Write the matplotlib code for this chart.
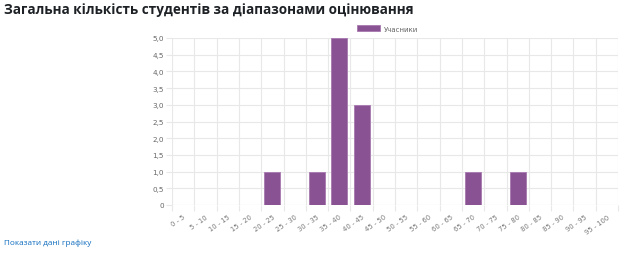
import matplotlib
matplotlib.use("Agg")
import matplotlib.pyplot as plt
import numpy as np

categories = ["0 - 5", "5 - 10", "10 - 15", "15 - 20", "20 - 25", "25 - 30", "30 - 35",
              "35 - 40", "40 - 45", "45 - 50", "50 - 55", "55 - 60", "60 - 65", "65 - 70",
              "70 - 75", "75 - 80", "80 - 85", "85 - 90", "90 - 95", "95 - 100"]
values = [0, 0, 0, 0, 1, 0, 1, 5, 3, 0, 0, 0, 0, 1, 0, 1, 0, 0, 0, 0]
y_ticks = [0, 0.5, 1.0, 1.5, 2.0, 2.5, 3.0, 3.5, 4.0, 4.5, 5.0]
y_labels = ["0", "0,5", "1,0", "1,5", "2,0", "2,5", "3,0", "3,5", "4,0", "4,5", "5,0"]
series_name = "Учасники"
title = "Загальна кількість студентів за діапазонами оцінювання"
link_text = "Показати дані графіку"

W, H = 640, 255
fig = plt.figure(figsize=(W / 100, H / 100), dpi=100)
ax = fig.add_axes([172 / W, 1 - 206 / H, (618 - 172) / W, (206 - 39) / H])

x = np.arange(len(categories))
ax.bar(x, values, width=0.72, color="#895393", edgecolor="#a878b0", linewidth=0.6, zorder=3)

ax.set_xlim(-0.5, len(categories) - 0.5)
ax.set_ylim(0, 5.0)

# grid lines at category boundaries
for b in np.arange(-0.5, len(categories) + 0.5, 1):
    ax.axvline(b, color="#e8e8e8", linewidth=0.8, zorder=1)
for yt in y_ticks[1:]:
    ax.axhline(yt, color="#e8e8e8", linewidth=0.8, zorder=1)
ax.axhline(0, color="#d0d0d0", linewidth=0.8, zorder=2)

for s in ax.spines.values():
    s.set_visible(False)

ax.set_yticks(y_ticks)
ax.set_yticklabels(y_labels, fontsize=5.2, color="#666666", family="DejaVu Sans")
ax.tick_params(axis="y", length=4, color="#e8e8e8", pad=2)

ax.set_xticks(np.arange(-0.5, len(categories), 1), minor=False)
ax.set_xticklabels([])
ax.tick_params(axis="x", length=4, color="#e8e8e8")
ax.set_xticks(x, minor=True)
ax.set_xticklabels(categories, minor=True, rotation=35, ha="right", rotation_mode="anchor",
                   fontsize=4.9, color="#777777", family="DejaVu Sans")
ax.tick_params(axis="x", which="minor", length=0, pad=6)

# legend
fig.patches.append(plt.Rectangle((357 / W, 1 - 32 / H), 23 / W, 6 / H,
                                 transform=fig.transFigure, facecolor="#895393",
                                 edgecolor="#a878b0", linewidth=0.6))
fig.text(384 / W, 1 - 29.5 / H, series_name, fontsize=5.0, color="#666666",
         va="center", ha="left", family="DejaVu Sans")

fig.text(4 / W, 1 - 10 / H, title, fontsize=9.75, fontweight="bold", color="#1d2125",
         va="center", ha="left", family="Open Sans")
fig.text(4 / W, 1 - 243 / H, link_text, fontsize=5.9, color="#0f6cbf",
         va="center", ha="left", family="Open Sans")

fig.savefig("out.png", dpi=100)
